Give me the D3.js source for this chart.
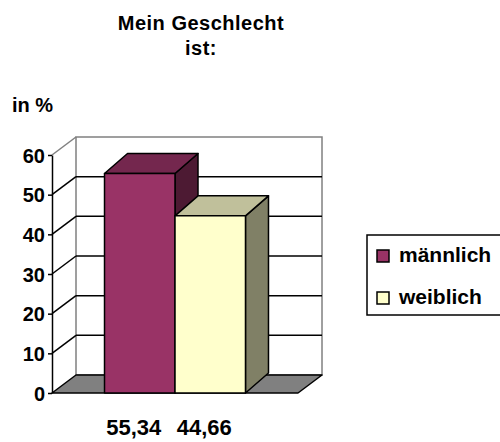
<!DOCTYPE html>
<html>
<head>
<meta charset="utf-8">
<script src="https://cdn.jsdelivr.net/npm/d3@7"></script>
<style>
  body { margin: 0; background: #fff; }
  text { font-family: "Liberation Sans", Arial, sans-serif; font-weight: bold; fill: #000; }
</style>
</head>
<body>
<div id="chart"></div>
<script>
// data
var series = ["männlich", "weiblich"]
var values = [55.34, 44.66]
var valueLabels = ["55,34", "44,66"]
var yTicks = [0, 10, 20, 30, 40, 50, 60]
var titleLines = ["Mein Geschlecht", "ist:"]

var colors = {
  "männlich": { front: "#993366", top: "#74274e", side: "#4d1a33" },
  "weiblich": { front: "#ffffcc", top: "#c0c09b", side: "#808066" }
}

var width = 500, height = 442
var plot = { left: 52, right: 298, top: 155, bottom: 393 }
var wall = { dx: 24, dy: -18 }   // depth of the box
var bar = { dx: 23, dy: -20 }    // depth of a bar

var svg = d3.select("#chart")
  .append("svg")
    .attr("width", width)
    .attr("height", height)

var y = d3.scaleLinear()
    .domain([0, 60])
    .range([plot.bottom, plot.top])

var x = d3.scaleBand()
    .domain(series)
    .range([plot.left, plot.right])
    .paddingInner(0)
    .paddingOuter(0.745)

// title
svg.append("g").selectAll("text")
    .data(titleLines)
  .enter().append("text")
    .attr("x", 201)
    .attr("y", function(d, i) { return 30 + i * 25 })
    .attr("text-anchor", "middle")
    .attr("font-size", 20)
    .attr("letter-spacing", 0.5)
    .text(function(d) { return d })

svg.append("text")
    .attr("x", 12)
    .attr("y", 112)
    .attr("font-size", 20)
    .text("in %")

// back wall
var bx0 = plot.left + wall.dx, bx1 = plot.right + wall.dx
svg.append("rect")
    .attr("x", bx0)
    .attr("y", y(60) + wall.dy)
    .attr("width", bx1 - bx0)
    .attr("height", y(0) - y(60))
    .attr("fill", "#fff")
    .attr("stroke", "#808080")
    .attr("stroke-width", 1.5)

// grid lines on the back wall
svg.append("g").selectAll("line")
    .data(yTicks.filter(function(d) { return d > 0 && d < 60 }))
  .enter().append("line")
    .attr("x1", bx0)
    .attr("x2", bx1)
    .attr("y1", function(d) { return y(d) + wall.dy })
    .attr("y2", function(d) { return y(d) + wall.dy })
    .attr("stroke", "#000")
    .attr("stroke-width", 1.5)

// diagonals on the side wall
svg.append("g").selectAll("line")
    .data(yTicks.filter(function(d) { return d > 0 }))
  .enter().append("line")
    .attr("x1", plot.left)
    .attr("x2", bx0)
    .attr("y1", function(d) { return y(d) })
    .attr("y2", function(d) { return y(d) + wall.dy })
    .attr("stroke", function(d) { return d === 60 ? "#808080" : "#000" })
    .attr("stroke-width", 1.5)

// floor
svg.append("polygon")
    .attr("points", [
      [plot.left, y(0)], [bx0, y(0) + wall.dy],
      [bx1, y(0) + wall.dy], [plot.right, y(0)]
    ].join(" "))
    .attr("fill", "#808080")
    .attr("stroke", "#000")
    .attr("stroke-width", 1.5)
    .attr("stroke-linejoin", "round")

// bars
var bars = svg.append("g").selectAll("g")
    .data(series)
  .enter().append("g")

function face(d, i, which) {
  var x0 = x(d), x1 = x(d) + x.bandwidth()
  var yt = y(values[i]), yb = y(0)
  if (which === "front") return [[x0, yt], [x1, yt], [x1, yb], [x0, yb]]
  if (which === "top") return [[x0, yt], [x0 + bar.dx, yt + bar.dy], [x1 + bar.dx, yt + bar.dy], [x1, yt]]
  return [[x1, yt], [x1 + bar.dx, yt + bar.dy], [x1 + bar.dx, yb + bar.dy], [x1, yb]]
}

;["side", "top", "front"].forEach(function(which) {
  bars.append("polygon")
      .attr("points", function(d, i) { return face(d, i, which).join(" ") })
      .attr("fill", function(d) { return colors[d][which] })
      .attr("stroke", "#000")
      .attr("stroke-width", 1.5)
      .attr("stroke-linejoin", "round")
})

// y axis
var yAxis = d3.axisLeft(y)
    .tickValues(yTicks)
    .tickSize(4)
    .tickSizeOuter(0)
    .tickPadding(3)

var ax = svg.append("g")
    .attr("transform", "translate(" + plot.left + ",0)")
    .call(yAxis)
ax.select(".domain").attr("stroke", "#000").attr("stroke-width", 1.5)
ax.selectAll(".tick line").attr("stroke", "#000").attr("stroke-width", 1.5)
ax.selectAll(".tick text")
    .attr("font-size", 20)
    .attr("font-family", "Liberation Sans, Arial, sans-serif")
    .attr("font-weight", "bold")
    .attr("fill", "#000")
    .attr("dy", "0.36em")

// value labels under the bars
svg.append("g").selectAll("text")
    .data(valueLabels)
  .enter().append("text")
    .attr("x", function(d, i) { return x(series[i]) + x.bandwidth() / 2 - 6 })
    .attr("y", 435)
    .attr("text-anchor", "middle")
    .attr("font-size", 22)
    .text(function(d) { return d })

// legend
var legend = svg.append("g")
legend.append("rect")
    .attr("x", 367)
    .attr("y", 235)
    .attr("width", 150)
    .attr("height", 80)
    .attr("fill", "#fff")
    .attr("stroke", "#000")
    .attr("stroke-width", 1.5)

var items = legend.selectAll("g.item")
    .data(series)
  .enter().append("g")
    .attr("class", "item")
    .attr("transform", function(d, i) { return "translate(377," + (250 + i * 42) + ")" })

items.append("rect")
    .attr("width", 12)
    .attr("height", 12)
    .attr("fill", function(d) { return colors[d].front })
    .attr("stroke", "#000")
    .attr("stroke-width", 1.5)

items.append("text")
    .attr("x", 22)
    .attr("y", 12)
    .attr("font-size", 21)
    .text(function(d) { return d })
</script>
</body>
</html>
